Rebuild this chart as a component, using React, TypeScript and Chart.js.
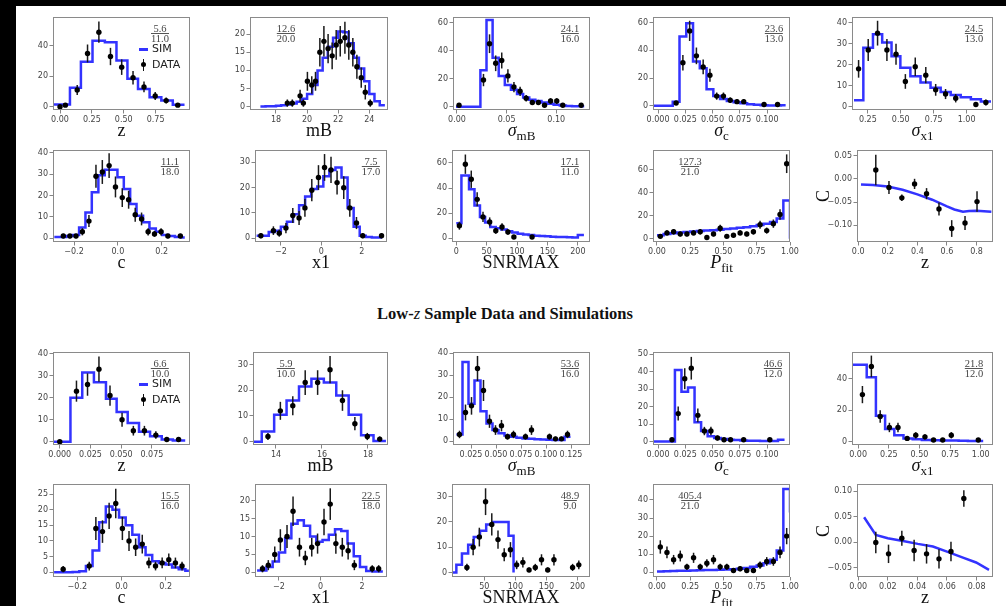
import React, { useEffect, useRef } from 'react';
import { Chart, registerables } from 'chart.js';

Chart.register(...registerables);

const BLUE = '#3333ff';

// ================= DATA : upper sample =================
// z
const zHiSimEdges = [-0.047, 0.078, 0.164, 0.255, 0.352, 0.443, 0.529, 0.612, 0.703, 0.795, 0.885, 0.977];
const zHiSimCounts = [1.5, 12.5, 29.5, 43.3, 42.4, 30.3, 18.3, 11.7, 6.2, 4.0, 1.2];
const zHiDataX = [0.0, 0.042, 0.135, 0.216, 0.305, 0.396, 0.484, 0.573, 0.659, 0.747, 0.833, 0.924];
const zHiDataY = [0, 1, 11, 35, 49, 33, 26, 19, 13, 7, 4, 1];
const zHiDataErr = [0, 1, 3.3, 5.9, 7, 5.7, 5.1, 4.4, 3.6, 2.6, 2, 1];
// mB
const mBHiSimEdges = [17, 17.33, 17.67, 18, 18.33, 18.67, 19, 19.33, 19.67, 20, 20.33, 20.67, 21, 21.33, 21.67, 22, 22.33, 22.67, 23, 23.33, 23.67, 24, 24.33, 24.67, 25];
const mBHiSimCounts = [0.05, 0.1, 0.15, 0.25, 0.4, 0.6, 0.9, 1.4, 2.2, 3.5, 6, 10, 13.5, 16.5, 19, 20.7, 20.5, 17.5, 13.5, 10.5, 7, 3.5, 1.5, 0.4];
const mBHiDataX = [18.73, 19.05, 19.55, 19.76, 20.02, 20.3, 20.54, 20.82, 21.08, 21.35, 21.61, 21.87, 22.13, 22.43, 22.68, 22.94, 23.2, 23.48, 23.74, 24.06];
const mBHiDataY = [1, 1, 3, 1, 7, 6, 7, 15, 18, 16, 14, 17, 18, 19, 17, 15, 11, 8, 4, 1];
const mBHiDataErr = [1, 1, 1.7, 1, 2.6, 2.4, 2.6, 3.9, 4.2, 4, 3.7, 4.1, 4.2, 4.4, 4.1, 3.9, 3.3, 2.8, 2, 1];
// sigma mB
const smBHiSimEdges = [-0.001, 0.00515, 0.0113, 0.01745, 0.0236, 0.02975, 0.0359, 0.04205, 0.0482, 0.05435, 0.0605, 0.06665, 0.0728, 0.07895, 0.0851, 0.09125, 0.0974, 0.10355, 0.1097, 0.11585, 0.122, 0.12815];
const smBHiSimCounts = [0, 0, 0, 0, 26, 62, 35, 22, 15.5, 12, 9, 6.5, 5, 4, 3, 2, 1.3, 0.8, 0.5, 0.3, 0.2];
const smBHiDataX = [0.0021, 0.0267, 0.0328, 0.039, 0.0451, 0.0513, 0.0574, 0.0636, 0.0697, 0.0759, 0.082, 0.0882, 0.0943, 0.1005, 0.1066, 0.1251];
const smBHiDataY = [1, 19, 45, 31, 33, 22, 14, 11, 6, 3, 3, 1, 4, 4, 1, 1];
const smBHiDataErr = [1, 4.4, 6.7, 5.6, 5.7, 4.7, 3.7, 3.3, 2.4, 1.7, 1.7, 1, 2, 2, 1, 1];
// sigma c
const scHiSimEdges = [-0.004, 0.0135, 0.0197, 0.0259, 0.0321, 0.0383, 0.0445, 0.0507, 0.0569, 0.0631, 0.0693, 0.0755, 0.0817, 0.0879, 0.0941, 0.1003, 0.1065, 0.1127, 0.117];
const scHiSimCounts = [0, 3, 50, 59.5, 32, 27, 12, 7, 5, 3.5, 2.5, 1.8, 1.2, 0.8, 0.5, 0.3, 0.2, 0.5];
const scHiDataX = [0.0166, 0.0228, 0.029, 0.0352, 0.0414, 0.0476, 0.0538, 0.06, 0.0662, 0.0724, 0.0786, 0.0972, 0.1096];
const scHiDataY = [2, 31, 54, 36, 28, 22, 7, 7, 4, 3, 3, 1, 1];
const scHiDataErr = [1.4, 5.6, 7.3, 6, 5.3, 4.7, 2.6, 2.6, 2, 1.7, 1.7, 1, 1];
// sigma x1
const sx1HiSimEdges = [0.145, 0.216, 0.289, 0.359, 0.43, 0.497, 0.573, 0.65, 0.726, 0.803, 0.879, 0.955, 1.032, 1.108, 1.185];
const sx1HiSimCounts = [3, 28, 34.5, 30.5, 24, 18.5, 14.5, 11.5, 9, 7, 5.5, 4.5, 3.5, 2.5];
const sx1HiDataX = [0.18, 0.253, 0.324, 0.395, 0.464, 0.535, 0.61, 0.69, 0.765, 0.84, 0.917, 1.07, 1.146];
const sx1HiDataY = [18, 27, 35, 27, 25, 12, 19, 15, 8, 6, 4, 1, 2];
const sx1HiDataErr = [4.2, 5.2, 5.9, 5.2, 5, 3.5, 4.4, 3.9, 2.8, 2.4, 2, 1, 1.4];
// c
const cHiSimEdges = [-0.29, -0.235, -0.206, -0.177, -0.148, -0.119, -0.089, -0.06, -0.031, -0.002, 0.027, 0.056, 0.085, 0.115, 0.144, 0.173, 0.202, 0.231, 0.26, 0.29, 0.305];
const cHiSimCounts = [0.5, 1, 1.5, 5, 12, 21.5, 29.5, 32, 32, 28.5, 23, 16, 10.5, 7.5, 4.5, 3, 1.5, 1, 0.5, 0.3];
const cHiDataX = [-0.249, -0.219, -0.191, -0.162, -0.132, -0.1, -0.071, -0.04, -0.011, 0.02, 0.049, 0.079, 0.108, 0.138, 0.167, 0.197, 0.228, 0.285];
const cHiDataY = [1, 1, 1, 3, 8, 29, 31, 34, 24, 19, 18, 11, 9, 3, 2, 3, 1, 1];
const cHiDataErr = [1, 1, 1, 1.7, 2.8, 5.4, 5.6, 5.8, 4.9, 4.4, 4.2, 3.3, 3, 1.7, 1.4, 1.7, 1, 1];
// x1
const x1HiSimEdges = [-3.2, -2.6, -2.3, -2.0, -1.7, -1.4, -1.1, -0.8, -0.5, -0.2, 0.1, 0.4, 0.7, 1.0, 1.3, 1.6, 1.9, 2.2, 2.5, 3.0];
const x1HiSimCounts = [1, 2.5, 3, 4.5, 6.5, 9.5, 13, 16.5, 19.5, 20.5, 24.5, 27, 28, 24, 12, 4.5, 1, 0.5, 0.3];
const x1HiDataX = [-2.99, -2.37, -2.08, -1.75, -1.41, -1.1, -0.81, -0.47, -0.14, 0.16, 0.48, 0.78, 1.11, 1.41, 1.74, 2.05, 2.98];
const x1HiDataY = [1, 3, 2, 4, 9, 8, 12, 19, 24, 28, 27, 22, 20, 12, 6, 1, 1];
const x1HiDataErr = [1, 1.7, 1.4, 2, 3, 2.8, 3.5, 4.4, 4.9, 5.3, 5.2, 4.7, 4.5, 3.5, 2.4, 1, 1];
// SNRMAX
const snrHiSimEdges = [0, 8.5, 21, 30, 39, 47.5, 56, 65, 74, 83, 92, 101, 110, 119, 128, 137, 146, 155, 164, 173, 182, 191, 200, 210];
const snrHiSimCounts = [12, 50, 39, 26, 17, 12.5, 9, 8, 7, 5.5, 4.5, 3.5, 3, 2.5, 2, 1.8, 1.5, 1.2, 1, 0.9, 0.7, 0.5, 2.5];
const snrHiDataX = [5.2, 15, 24.7, 34.4, 44, 55, 65, 75.3, 85, 94.8, 124.7];
const snrHiDataY = [10, 59, 47, 31, 17, 13, 6, 9, 5, 1, 1];
const snrHiDataErr = [3.2, 7.7, 6.9, 5.6, 4.1, 3.6, 2.4, 3, 2.2, 1, 1];
// P_fit
const pfitSimEdges = [0, 0.05, 0.1, 0.15, 0.2, 0.25, 0.3, 0.35, 0.4, 0.45, 0.5, 0.55, 0.6, 0.65, 0.7, 0.75, 0.8, 0.85, 0.9, 0.95, 1.0];
const pfitHiSimCounts = [3, 4, 4.7, 5.3, 5.8, 6.2, 6.6, 7, 7.4, 7.8, 8.3, 8.8, 9.4, 10, 10.8, 11.8, 13, 14.5, 17.5, 33];
const pfitDataX = [0.025, 0.075, 0.125, 0.175, 0.225, 0.275, 0.325, 0.375, 0.425, 0.475, 0.525, 0.575, 0.625, 0.675, 0.725, 0.775, 0.825, 0.875, 0.925, 0.975];
const pfitHiDataY = [2, 5, 6, 4, 4, 5, 6, 1, 4, 9, 2, 3, 5, 4, 6, 12, 7, 13, 21, 65];
const pfitHiDataErr = [1.4, 2.2, 2.4, 2, 2, 2.2, 2.4, 1, 2, 3, 1.4, 1.7, 2.2, 2, 2.4, 3.5, 2.6, 3.6, 4.6, 8.1];
// C vs z
const czHiSimX = [0.019, 0.1, 0.2, 0.3, 0.4, 0.5, 0.6, 0.65, 0.708, 0.75, 0.8, 0.9];
const czHiSimY = [-0.0121, -0.0135, -0.0164, -0.0236, -0.0336, -0.045, -0.0593, -0.066, -0.0707, -0.0693, -0.0685, -0.0707];
const czHiDataX = [0.119, 0.208, 0.295, 0.381, 0.462, 0.546, 0.632, 0.722, 0.803];
const czHiDataY = [0.019, -0.0186, -0.041, -0.011, -0.032, -0.065, -0.107, -0.095, -0.049];
const czHiDataErr = [0.033, 0.014, 0.007, 0.011, 0.012, 0.014, 0.018, 0.015, 0.022];

// ================= DATA : low-z sample =================
const zLoSimEdges = [-0.0047, 0.0087, 0.0183, 0.0278, 0.0376, 0.0463, 0.0553, 0.0645, 0.0735, 0.083, 0.092, 0.1021];
const zLoSimCounts = [0, 20, 31.5, 27, 19.5, 13.5, 8.5, 4.5, 2.5, 1, 0.5];
const zLoDataX = [0, 0.0136, 0.0226, 0.0319, 0.0409, 0.0507, 0.0599, 0.0689, 0.0782, 0.0871, 0.0967];
const zLoDataY = [0, 23, 26, 33, 21, 10, 5, 5, 3, 1, 1];
const zLoDataErr = [0, 4.8, 5.1, 5.7, 4.6, 3.2, 2.2, 2.2, 1.7, 1, 1];

const mBLoSimEdges = [13.03, 13.38, 13.92, 14.46, 15.0, 15.54, 16.08, 16.62, 17.16, 17.7, 18.24, 18.78];
const mBLoSimCounts = [0, 4, 10.5, 16, 21.5, 24.5, 23, 18, 10.5, 2.5, 0.3];
const mBLoDataX = [13.65, 14.19, 14.73, 15.27, 15.81, 16.35, 16.89, 17.43, 17.97, 18.51];
const mBLoDataY = [2, 12, 14, 23, 23, 28, 16, 7, 2, 1];
const mBLoDataErr = [1.4, 3.5, 3.7, 4.8, 4.8, 5.3, 4, 2.6, 1.4, 1];

const smBLoSimEdges = [0.0105, 0.0165, 0.0225, 0.0285, 0.0345, 0.0405, 0.0465, 0.0525, 0.0585, 0.0645, 0.0705, 0.0765, 0.0825, 0.0885, 0.0945, 0.1005, 0.1065, 0.1125, 0.1185, 0.1245];
const smBLoSimCounts = [3, 36, 17, 27.5, 13.5, 8, 5, 3.5, 2.5, 2, 1.5, 1.2, 1, 0.8, 0.7, 0.6, 0.5, 0.5, 2];
const smBLoDataX = [0.0135, 0.0195, 0.0255, 0.0315, 0.0375, 0.0435, 0.0495, 0.0555, 0.0615, 0.0675, 0.0795, 0.0855, 0.1035, 0.1095, 0.1155, 0.1215];
const smBLoDataY = [3, 13, 16, 33, 23, 9, 5, 7, 2, 3, 2, 5, 2, 1, 1, 3];
const smBLoDataErr = [1.7, 3.6, 4, 5.7, 4.8, 3, 2.2, 2.6, 1.4, 1.7, 1.4, 2.2, 1.4, 1, 1, 1.7];

const scLoSimEdges = [-0.004, 0.0155, 0.0215, 0.0275, 0.0335, 0.0395, 0.0455, 0.0515, 0.0575, 0.0635, 0.0695, 0.0755, 0.0815, 0.0875, 0.0935, 0.0995, 0.1055, 0.11, 0.116];
const scLoSimCounts = [0, 41, 28.5, 31, 11, 6, 3, 2, 1.5, 1, 0.8, 0.6, 0.5, 0.4, 0.3, 0.3, 0.3, 1];
const scLoDataX = [0.0128, 0.0185, 0.0245, 0.0305, 0.0365, 0.0425, 0.0485, 0.0545, 0.0605, 0.0665, 0.0785, 0.1025];
const scLoDataY = [1, 16, 36, 42, 15, 6, 6, 2, 1, 1, 1, 1];
const scLoDataErr = [1, 4, 6, 6.5, 3.9, 2.4, 2.4, 1.4, 1, 1, 1, 1];

const sx1LoSimEdges = [-0.045, 0.07, 0.145, 0.22, 0.295, 0.37, 0.445, 0.52, 0.595, 0.67, 0.745, 0.82, 0.895, 0.97, 1.02];
const sx1LoSimCounts = [49, 41, 16.5, 8, 4, 2, 1.5, 1, 0.8, 0.7, 0.6, 0.5, 0.4, 0.3];
const sx1LoDataX = [0.035, 0.108, 0.18, 0.255, 0.325, 0.4, 0.47, 0.545, 0.615, 0.69, 0.76, 0.98];
const sx1LoDataY = [30, 48, 16, 9, 9, 2, 4, 3, 1, 1, 4, 1];
const sx1LoDataErr = [5.5, 6.9, 4, 3, 3, 1.4, 2, 1.7, 1, 1, 2, 1];

const cLoSimEdges = [-0.305, -0.221, -0.191, -0.161, -0.131, -0.101, -0.071, -0.041, -0.011, 0.019, 0.049, 0.079, 0.109, 0.139, 0.169, 0.199, 0.229, 0.259, 0.289, 0.305];
const cLoSimCounts = [0, 0.1, 0.3, 2, 7, 16, 21, 20, 17.5, 15, 12, 8, 5.5, 3.5, 3, 2.5, 1.5, 1, 0.5];
const cLoDataX = [-0.264, -0.146, -0.116, -0.086, -0.056, -0.026, 0.004, 0.034, 0.064, 0.094, 0.124, 0.154, 0.184, 0.214, 0.244, 0.274];
const cLoDataY = [1, 2, 14, 13, 18, 22, 14, 10, 8, 9, 3, 2, 3, 4, 3, 2];
const cLoDataErr = [1, 1.4, 3.7, 3.6, 4.2, 4.7, 3.7, 3.2, 2.8, 3, 1.7, 1.4, 1.7, 2, 1.7, 1.4];

const x1LoSimEdges = [-3.05, -2.6, -2.3, -2.0, -1.7, -1.4, -1.1, -0.8, -0.5, -0.2, 0.1, 0.4, 0.7, 1.0, 1.3, 1.6, 1.9, 2.2, 2.5, 3.0];
const x1LoSimCounts = [0.5, 1.5, 3, 5.5, 9.5, 13.5, 14.5, 13, 10, 8.5, 9, 10.5, 12, 11.5, 8, 4.5, 1.5, 0.4, 0.2];
const x1LoDataX = [-2.79, -2.51, -2.2, -1.93, -1.61, -1.32, -1.01, -0.73, -0.42, -0.14, 0.17, 0.47, 0.74, 1.05, 1.33, 1.63, 2.49, 2.8];
const x1LoDataY = [1, 2, 5, 9, 10, 17, 7, 4, 7, 8, 14, 19, 8, 7, 6, 2, 1, 1];
const x1LoDataErr = [1, 1.4, 2.2, 3, 3.2, 4.1, 2.6, 2, 2.6, 2.8, 3.7, 4.4, 2.8, 2.6, 2.4, 1.4, 1, 1];

const snrLoSimEdges = [-2, 5, 14, 24, 33, 43, 53, 63, 89, 97];
const snrLoSimCounts = [0, 3, 7.5, 11, 14, 16.5, 19, 20, 14.5];
const snrLoDataX = [22, 32, 42, 52, 62, 72, 82, 92, 102, 112, 122, 132, 142, 152, 162, 192, 202];
const snrLoDataY = [2, 10, 14, 28, 19, 13, 7, 9, 3, 4, 1, 2, 5, 1, 5, 2, 3];
const snrLoDataErr = [1.4, 3.2, 3.7, 5.3, 4.4, 3.6, 2.6, 3, 1.7, 2, 1, 1.4, 2.2, 1, 2.2, 1.4, 1.7];

const pfitLoSimCounts = [0.5, 0.6, 0.7, 0.8, 0.9, 1.0, 1.1, 1.2, 1.3, 1.4, 1.5, 1.7, 2.0, 2.4, 3.0, 3.8, 5, 7, 12, 46];
const pfitLoDataY = [14, 11, 7, 9, 3, 8, 3, 5, 7, 3, 3, 1, 2, 1, 1, 4, 6, 6, 11, 20];
const pfitLoDataErr = [3.7, 3.3, 2.6, 3, 1.7, 2.8, 1.7, 2.2, 2.6, 1.7, 1.7, 1, 1.4, 1, 1, 2, 2.4, 2.4, 3.3, 4.5];

const czLoSimX = [0.004, 0.0119, 0.02, 0.0303, 0.0403, 0.0505, 0.06, 0.0708, 0.0797, 0.0884];
const czLoSimY = [0.049, 0.0143, 0.0078, 0.0026, -0.0032, -0.0084, -0.0182, -0.03, -0.0396, -0.0539];
const czLoDataX = [0.0119, 0.0205, 0.0295, 0.0378, 0.0462, 0.0546, 0.0627, 0.0714];
const czLoDataY = [-0.0006, -0.0227, 0.0078, -0.0162, -0.0227, -0.0325, -0.0182, 0.0857];
const czLoDataErr = [0.021, 0.018, 0.0145, 0.021, 0.019, 0.019, 0.019, 0.016];

// fit statistics (chi2 / ndof)
const FRACS: [string, string][] = [
  ['5.6', '11.0'], ['12.6', '20.0'], ['24.1', '16.0'], ['23.6', '13.0'], ['24.5', '13.0'],
  ['11.1', '18.0'], ['7.5', '17.0'], ['17.1', '11.0'], ['127.3', '21.0'],
  ['6.6', '10.0'], ['5.9', '10.0'], ['53.6', '16.0'], ['46.6', '12.0'], ['21.8', '12.0'],
  ['15.5', '16.0'], ['22.5', '18.0'], ['48.9', '9.0'], ['405.4', '21.0'],
];

// ================= helpers =================
type Pt = { x: number; y: number; err?: number };
const steps = (edges: number[], counts: number[], tail?: number): Pt[] => {
  const pts = edges.map((e, i) => ({ x: e, y: counts[Math.min(i, counts.length - 1)] }));
  if (tail !== undefined) pts.push({ x: edges[edges.length - 1], y: tail });
  return pts;
};
const pairs = (xs: number[], ys: number[]): Pt[] => xs.map((x, i) => ({ x, y: ys[i] }));
const pts = (xs: number[], ys: number[], es: number[]): Pt[] => xs.map((x, i) => ({ x, y: ys[i], err: es[i] }));
const fmt = (v: number, d: number) => (Math.abs(v) < 1e-9 ? 0 : v).toFixed(d).replace('-', '\u2212');

const subSt: React.CSSProperties = { fontSize: 13, fontStyle: 'normal', position: 'relative', top: 4 };
const sig = (s: string) => (<><i>σ</i><span style={subSt}>{s}</span></>);
const pfitLbl = (<><i>P</i><span style={subSt}>fit</span></>);

type Spec = {
  box: [number, number, number, number];
  xr: [number, number]; yr: [number, number];
  xt: number[]; yt: number[]; xd: number; yd: number;
  sim: Pt[]; stepped: boolean; data: Pt[];
  frac?: [string, string]; fx?: number;
  legend?: boolean; xl: React.ReactNode; yl?: string;
};

const T1 = 17, B1 = 110, T2 = 150, B2 = 242, T3 = 352, B3 = 445, T4 = 484, B4 = 577;

const PANELS: Spec[] = [
  { box: [53, T1, 190, B1], xr: [-0.055, 1.02], yr: [-2.2, 59], xt: [0, 0.25, 0.5, 0.75], yt: [0, 20, 40], xd: 2, yd: 0,
    sim: steps(zHiSimEdges, zHiSimCounts), stepped: true, data: pts(zHiDataX, zHiDataY, zHiDataErr), frac: FRACS[0], fx: 107, legend: true, xl: 'z' },
  { box: [250, T1, 388, B1], xr: [16.33, 25.2], yr: [-0.9, 24.7], xt: [18, 20, 22, 24], yt: [0, 5, 10, 15, 20], xd: 0, yd: 0,
    sim: steps(mBHiSimEdges, mBHiSimCounts), stepped: true, data: pts(mBHiDataX, mBHiDataY, mBHiDataErr), frac: FRACS[1], fx: 36, xl: 'mB' },
  { box: [453, T1, 590, B1], xr: [-0.004, 0.134], yr: [-2.4, 64.1], xt: [0, 0.05, 0.1], yt: [0, 20, 40, 60], xd: 2, yd: 0,
    sim: steps(smBHiSimEdges, smBHiSimCounts), stepped: true, data: pts(smBHiDataX, smBHiDataY, smBHiDataErr), frac: FRACS[2], fx: 117, xl: sig('mB') },
  { box: [653, T1, 790, B1], xr: [-0.0046, 0.121], yr: [-3, 64], xt: [0, 0.025, 0.05, 0.075, 0.1], yt: [0, 20, 40, 60], xd: 3, yd: 0,
    sim: steps(scHiSimEdges, scHiSimCounts), stepped: true, data: pts(scHiDataX, scHiDataY, scHiDataErr), frac: FRACS[3], fx: 121, xl: sig('c') },
  { box: [852, T1, 993, B1], xr: [0.13, 1.2], yr: [-1.6, 42.7], xt: [0.25, 0.5, 0.75, 1.0], yt: [0, 10, 20, 30, 40], xd: 2, yd: 0,
    sim: steps(sx1HiSimEdges, sx1HiSimCounts), stepped: true, data: pts(sx1HiDataX, sx1HiDataY, sx1HiDataErr), frac: FRACS[4], fx: 122, xl: sig('x1') },

  { box: [53, T2, 190, B2], xr: [-0.296, 0.329], yr: [-1.8, 41.3], xt: [-0.2, 0, 0.2], yt: [0, 10, 20, 30, 40], xd: 1, yd: 0,
    sim: steps(cHiSimEdges, cHiSimCounts), stepped: true, data: pts(cHiDataX, cHiDataY, cHiDataErr), frac: FRACS[5], fx: 117, xl: 'c' },
  { box: [255, T2, 387, B2], xr: [-3.28, 3.25], yr: [-1.5, 34.9], xt: [-2, 0, 2], yt: [0, 10, 20, 30], xd: 0, yd: 0,
    sim: steps(x1HiSimEdges, x1HiSimCounts), stepped: true, data: pts(x1HiDataX, x1HiDataY, x1HiDataErr), frac: FRACS[6], fx: 116, xl: 'x1' },
  { box: [452, T2, 590, B2], xr: [-7, 220], yr: [-3, 70.3], xt: [0, 50, 100, 150, 200], yt: [0, 20, 40, 60], xd: 0, yd: 0,
    sim: steps(snrHiSimEdges, snrHiSimCounts), stepped: true, data: pts(snrHiDataX, snrHiDataY, snrHiDataErr), frac: FRACS[7], fx: 118, xl: 'SNRMAX' },
  { box: [653, T2, 790, B2], xr: [-0.03, 1.0], yr: [-2.9, 76.9], xt: [0, 0.25, 0.5, 0.75, 1.0], yt: [0, 20, 40, 60], xd: 2, yd: 0,
    sim: steps(pfitSimEdges, pfitHiSimCounts, 0), stepped: true, data: pts(pfitDataX, pfitHiDataY, pfitHiDataErr), frac: FRACS[8], fx: 37, xl: pfitLbl },
  { box: [857, T2, 993, B2], xr: [-0.008, 0.911], yr: [-0.136, 0.062], xt: [0, 0.2, 0.4, 0.6, 0.8], yt: [-0.1, -0.05, 0, 0.05], xd: 1, yd: 2,
    sim: pairs(czHiSimX, czHiSimY), stepped: false, data: pts(czHiDataX, czHiDataY, czHiDataErr), xl: 'z', yl: 'C' },

  { box: [53, T3, 190, B3], xr: [-0.0055, 0.106], yr: [-1.5, 40.8], xt: [0, 0.025, 0.05, 0.075], yt: [0, 10, 20, 30, 40], xd: 3, yd: 0,
    sim: steps(zLoSimEdges, zLoSimCounts), stepped: true, data: pts(zLoDataX, zLoDataY, zLoDataErr), frac: FRACS[9], fx: 107, legend: true, xl: 'z' },
  { box: [253, T3, 388, B3], xr: [13.0, 18.87], yr: [-1.3, 34.9], xt: [14, 16, 18], yt: [0, 10, 20, 30], xd: 0, yd: 0,
    sim: steps(mBLoSimEdges, mBLoSimCounts), stepped: true, data: pts(mBLoDataX, mBLoDataY, mBLoDataErr), frac: FRACS[10], fx: 33, xl: 'mB' },
  { box: [453, T3, 590, B3], xr: [0.007, 0.144], yr: [-1.8, 40.5], xt: [0.025, 0.05, 0.075, 0.1, 0.125], yt: [0, 10, 20, 30, 40], xd: 3, yd: 0,
    sim: steps(smBLoSimEdges, smBLoSimCounts), stepped: true, data: pts(smBLoDataX, smBLoDataY, smBLoDataErr), frac: FRACS[11], fx: 117, xl: sig('mB') },
  { box: [653, T3, 790, B3], xr: [-0.0046, 0.121], yr: [-2, 51.3], xt: [0, 0.025, 0.05, 0.075, 0.1], yt: [0, 10, 20, 30, 40, 50], xd: 3, yd: 0,
    sim: steps(scLoSimEdges, scLoSimCounts), stepped: true, data: pts(scLoDataX, scLoDataY, scLoDataErr), frac: FRACS[12], fx: 120, xl: sig('c') },
  { box: [852, T3, 993, B3], xr: [-0.05, 1.1], yr: [-2.2, 57.2], xt: [0, 0.25, 0.5, 0.75, 1.0], yt: [0, 20, 40], xd: 2, yd: 0,
    sim: steps(sx1LoSimEdges, sx1LoSimCounts), stepped: true, data: pts(sx1LoDataX, sx1LoDataY, sx1LoDataErr), frac: FRACS[13], fx: 122, xl: sig('x1') },

  { box: [53, T4, 190, B4], xr: [-0.31, 0.31], yr: [-1.5, 28.2], xt: [-0.2, 0, 0.2], yt: [0, 5, 10, 15, 20, 25], xd: 1, yd: 0,
    sim: steps(cLoSimEdges, cLoSimCounts), stepped: true, data: pts(cLoDataX, cLoDataY, cLoDataErr), frac: FRACS[14], fx: 117, xl: 'c' },
  { box: [255, T4, 387, B4], xr: [-3.15, 3.2], yr: [-1.3, 24.6], xt: [-2, 0, 2], yt: [0, 5, 10, 15, 20], xd: 0, yd: 0,
    sim: steps(x1LoSimEdges, x1LoSimCounts), stepped: true, data: pts(x1LoDataX, x1LoDataY, x1LoDataErr), frac: FRACS[15], fx: 116, xl: 'x1' },
  { box: [452, T4, 590, B4], xr: [-2, 220], yr: [-1.8, 35], xt: [50, 100, 150, 200], yt: [0, 10, 20, 30], xd: 0, yd: 0,
    sim: steps(snrLoSimEdges, snrLoSimCounts, 0), stepped: true, data: pts(snrLoDataX, snrLoDataY, snrLoDataErr), frac: FRACS[16], fx: 118, xl: 'SNRMAX' },
  { box: [653, T4, 790, B4], xr: [-0.03, 1.0], yr: [-2.6, 48.8], xt: [0, 0.25, 0.5, 0.75, 1.0], yt: [0, 10, 20, 30, 40], xd: 2, yd: 0,
    sim: steps(pfitSimEdges, pfitLoSimCounts, 33), stepped: true, data: pts(pfitDataX, pfitLoDataY, pfitLoDataErr), frac: FRACS[17], fx: 37, xl: pfitLbl },
  { box: [857, T4, 993, B4], xr: [-0.0008, 0.0911], yr: [-0.068, 0.114], xt: [0, 0.02, 0.04, 0.06, 0.08], yt: [-0.05, 0, 0.05, 0.1], xd: 2, yd: 2,
    sim: pairs(czLoSimX, czLoSimY), stepped: false, data: pts(czLoDataX, czLoDataY, czLoDataErr), xl: 'z', yl: 'C' },
];

// ================= chart plumbing =================
const M = { l: 50, r: 18, t: 10, b: 20 };

const errorBarPlugin = {
  id: 'errbars',
  beforeDatasetDraw(chart: any, args: any) {
    if (args.index !== 0) return;
    const { ctx, chartArea: a } = chart;
    const xs = chart.scales.x, ys = chart.scales.y;
    ctx.save();
    ctx.beginPath();
    ctx.rect(a.left, a.top, a.right - a.left, a.bottom - a.top);
    ctx.clip();
    ctx.strokeStyle = '#1a1a1a';
    ctx.lineWidth = 1.5;
    for (const d of chart.data.datasets[0].data as Pt[]) {
      if (!d.err) continue;
      const px = xs.getPixelForValue(d.x);
      ctx.beginPath();
      ctx.moveTo(px, ys.getPixelForValue(d.y - d.err));
      ctx.lineTo(px, ys.getPixelForValue(d.y + d.err));
      ctx.stroke();
    }
    ctx.restore();
  },
};

const framePlugin = {
  id: 'frame',
  afterDatasetsDraw(chart: any) {
    const { ctx, chartArea: a } = chart;
    ctx.save();
    ctx.strokeStyle = '#8a8a8a';
    ctx.lineWidth = 1;
    ctx.strokeRect(a.left + 0.5, a.top + 0.5, a.right - a.left - 1, a.bottom - a.top - 1);
    ctx.restore();
  },
};

const tickFont = { family: 'DejaVu Sans', size: 8 };

function PanelChart({ p }: { p: Spec }) {
  const ref = useRef<HTMLCanvasElement | null>(null);
  const [l, t, r, b] = p.box;
  const w = r - l, h = b - t;
  useEffect(() => {
    if (!ref.current) return;
    const grid = { display: true, drawOnChartArea: false, drawTicks: true, tickLength: 3.5, tickColor: '#777', tickWidth: 0.9 };
    const chart = new Chart(ref.current, {
      type: 'scatter',
      data: {
        datasets: [
          { type: 'scatter', data: p.data, pointRadius: 2.7, pointHoverRadius: 2.7, pointBackgroundColor: '#000', pointBorderColor: '#000', pointBorderWidth: 0 },
          { type: 'line', data: p.sim, stepped: p.stepped ? 'before' : false, borderColor: BLUE, borderWidth: 2.5, pointRadius: 0, fill: false, tension: 0 },
        ],
      },
      options: {
        animation: false, responsive: false, maintainAspectRatio: false, devicePixelRatio: 1, events: [],
        layout: { padding: { left: 0, right: M.r, top: M.t, bottom: 0 } },
        plugins: { legend: { display: false }, tooltip: { enabled: false } },
        scales: {
          x: {
            type: 'linear', min: p.xr[0], max: p.xr[1],
            afterBuildTicks: (ax: any) => { ax.ticks = p.xt.map((v) => ({ value: v })); },
            afterFit: (ax: any) => { ax.height = M.b; },
            ticks: { font: tickFont, color: '#444', padding: 1.5, maxRotation: 0, autoSkip: false, callback: (v: any) => fmt(Number(v), p.xd) },
            grid, border: { display: false },
          },
          y: {
            type: 'linear', min: p.yr[0], max: p.yr[1],
            afterBuildTicks: (ax: any) => { ax.ticks = p.yt.map((v) => ({ value: v })); },
            afterFit: (ax: any) => { ax.width = M.l; },
            ticks: { font: tickFont, color: '#444', padding: 1.5, autoSkip: false, callback: (v: any) => fmt(Number(v), p.yd) },
            grid, border: { display: false },
          },
        },
      },
      plugins: [errorBarPlugin, framePlugin],
    } as any);
    return () => chart.destroy();
  }, [p]);
  return (
    <canvas ref={ref} width={w + M.l + M.r} height={h + M.t + M.b}
      style={{ position: 'absolute', left: l - M.l, top: t - M.t, width: w + M.l + M.r, height: h + M.t + M.b }} />
  );
}

function Frac({ x, y, f }: { x: number; y: number; f: [string, string] }) {
  return (
    <div style={{ position: 'absolute', left: x, top: y, transform: 'translateX(-50%)', display: 'flex', flexDirection: 'column', alignItems: 'center', fontFamily: 'Liberation Serif', fontSize: 10.5, color: '#444', lineHeight: '9px', whiteSpace: 'nowrap' }}>
      <div>{f[0]}</div>
      <div style={{ borderTop: '1px solid #555', paddingTop: 0 }}>{f[1]}</div>
    </div>
  );
}

function Legend({ l, t }: { l: number; t: number }) {
  const txt: React.CSSProperties = { position: 'absolute', fontFamily: 'DejaVu Sans', fontSize: 11, lineHeight: '14px', color: '#222', whiteSpace: 'nowrap' };
  return (
    <>
      <div style={{ position: 'absolute', left: l + 86, top: t + 31, width: 9, height: 2.5, background: BLUE }} />
      <div style={{ ...txt, left: l + 99, top: t + 25 }}>SIM</div>
      <div style={{ position: 'absolute', left: l + 89.75, top: t + 42, width: 1.5, height: 12, background: '#111' }} />
      <div style={{ position: 'absolute', left: l + 88, top: t + 45.3, width: 5.2, height: 5.2, borderRadius: '50%', background: '#000' }} />
      <div style={{ ...txt, left: l + 99, top: t + 41 }}>DATA</div>
    </>
  );
}

function Overlay({ p }: { p: Spec }) {
  const [l, t, r, b] = p.box;
  const cx = (l + r) / 2;
  return (
    <>
      <div style={{ position: 'absolute', left: cx - 80, width: 160, top: b + 10.5, textAlign: 'center', fontFamily: 'Liberation Serif', fontSize: 18, lineHeight: '18px', color: '#111', whiteSpace: 'nowrap' }}>{p.xl}</div>
      {p.yl && (
        <div style={{ position: 'absolute', left: l - 34 - 20, width: 40, top: (t + b) / 2 - 10, height: 20, lineHeight: '20px', textAlign: 'center', transform: 'rotate(-90deg)', fontFamily: 'Liberation Serif', fontSize: 18, color: '#111' }}>{p.yl}</div>
      )}
      {p.frac && <Frac x={l + (p.fx ?? 0)} y={t + 7} f={p.frac} />}
      {p.legend && <Legend l={l} t={t} />}
    </>
  );
}

export default function App() {
  return (
    <div style={{ position: 'fixed', left: 0, top: 0, width: 1006, height: 606, background: '#000', overflow: 'hidden' }}>
      <div style={{ position: 'absolute', left: 16, top: 6, width: 990, height: 600, background: '#fff' }} />
      {PANELS.map((p, i) => (<PanelChart key={'c' + i} p={p} />))}
      {PANELS.map((p, i) => (<Overlay key={'o' + i} p={p} />))}
      <div style={{ position: 'absolute', left: 0, width: 1010, top: 304, textAlign: 'center', fontFamily: 'Liberation Serif', fontWeight: 'bold', fontSize: 16.5, lineHeight: '20px', color: '#111', whiteSpace: 'nowrap' }}>
        Low-<i style={{ fontWeight: 'normal' }}>z</i> Sample Data and Simulations
      </div>
    </div>
  );
}
